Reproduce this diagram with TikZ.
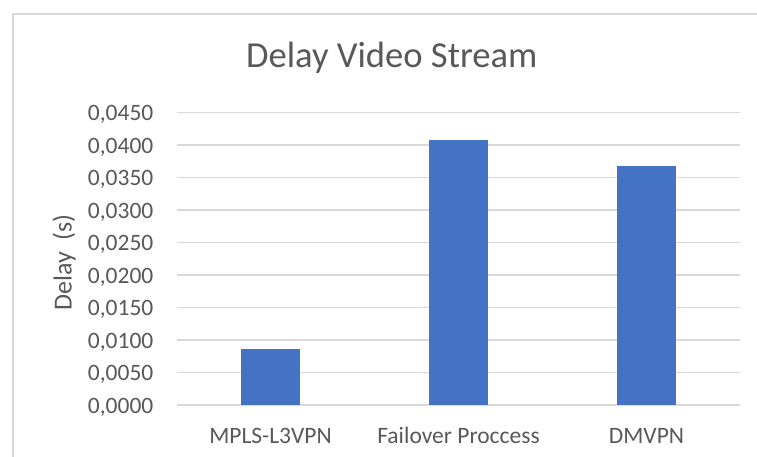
\documentclass[tikz,border=0pt]{standalone}
\usepackage{fontspec}
\setmainfont{Carlito}
\definecolor{txt}{HTML}{595959}
\definecolor{grid}{HTML}{D9D9D9}
\definecolor{bar}{HTML}{4472C4}
\begin{document}
\begin{tikzpicture}[x=1pt,y=-1pt,
  gridline/.style={draw=grid,line width=1.5pt},
  frameline/.style={draw=grid,line width=1.2pt},
  barbox/.style={fill=bar},
  ticklabel/.style={text=txt,anchor=base east,inner sep=0pt,font=\fontsize{23.5}{28}\selectfont},
  catlabel/.style={text=txt,anchor=base,inner sep=0pt,font=\fontsize{23.5}{28}\selectfont},
  titlelabel/.style={text=txt,anchor=base,inner sep=0pt,font=\fontsize{36.6}{44}\selectfont},
  axislabel/.style={text=txt,anchor=base,inner sep=0pt,rotate=90,font=\fontsize{26}{31}\selectfont}]
\useasboundingbox (0,0) rectangle (757,457);
\fill[white] (0,0) rectangle (757,457);
% chart frame
\draw[frameline] (13,460) -- (13,14) -- (760,14);
% gridlines and tick labels
\foreach \i/\lab in {0/0000,1/0050,2/0100,3/0150,4/0200,5/0250,6/0300,7/0350,8/0400,9/0450}{
  \pgfmathsetmacro{\yy}{405-\i*32.48}
  \draw[gridline] (177,\yy) -- (740,\yy);
  \node[ticklabel] (t\i) at (153.5,\yy+8) {0,\lab};
}
% bars (value 0.0001 = 0.6496 px)
\pgfmathsetmacro{\k}{6496}
\fill[barbox] (241,405) rectangle (300,{405-0.00862*\k});
\fill[barbox] (429,405) rectangle (488,{405-0.0408*\k});
\fill[barbox] (617,405) rectangle (676,{405-0.0368*\k});
% category labels
\node[catlabel] (c1) at (270.5,443.3) {MPLS-L3VPN};
\node[catlabel] (c2) at (458.5,443.3) {Failover Proccess};
\node[catlabel] (c3) at (646.5,443.3) {DMVPN};
% title
\node[titlelabel] (title) at (391.7,67.3) {Delay Video Stream};
% axis title
\node[axislabel] (ytitle) at (71.7,262.5) {Delay~~(s)};
\end{tikzpicture}
\end{document}
